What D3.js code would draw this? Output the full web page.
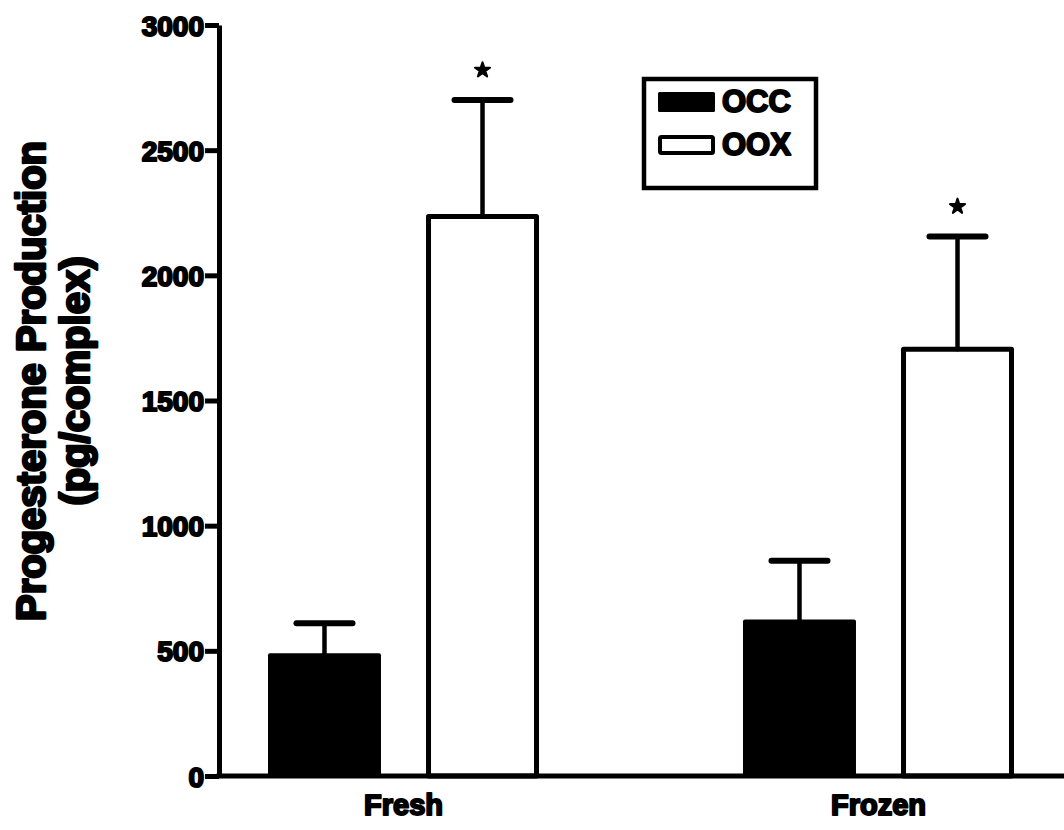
<!DOCTYPE html>
<html>
<head>
<meta charset="utf-8">
<script src="https://cdn.jsdelivr.net/npm/d3@7"></script>
<style>
  html, body { margin: 0; padding: 0; background: #fff; }
  svg { display: block; }
  text { font-family: "Liberation Sans", Arial, Helvetica, sans-serif; font-weight: bold; fill: #000; stroke-linejoin: round; }
</style>
</head>
<body>
<svg id="chart" width="1064" height="830"></svg>
<script>
// Progesterone production per complex, by tissue state and culture type
const groups = ["Fresh", "Frozen"];
const series = ["OCC", "OOX"];
const occMeans = [490, 625];
const occUpper = [610, 860];
const ooxMeans = [2235, 1705];
const ooxUpper = [2700, 2155];
const significant = [[false, true], [false, true]];
const yTicks = [0, 500, 1000, 1500, 2000, 2500, 3000];

const rows = groups.map((g, i) => [
  { group: g, key: "OCC", value: occMeans[i], upper: occUpper[i], star: significant[i][0] },
  { group: g, key: "OOX", value: ooxMeans[i], upper: ooxUpper[i], star: significant[i][1] }
]).flat();

const svg = d3.select("#chart");
const axisX = 219, axisBottom = 776, axisTop = 25;

const y = d3.scaleLinear().domain([0, 3000]).range([axisBottom, axisTop]);
const x = d3.scaleBand().domain(groups).range([166, 1116]).padding(0);
const inner = d3.scaleBand().domain(series).range([-135.5, 135.5]).paddingInner(0.285);

const stroke = "#000";

// Bars
const barG = svg.append("g");
rows.forEach(d => {
  const cx = x(d.group) + x.bandwidth() / 2;
  const bx = cx + inner(d.key);
  const bw = inner.bandwidth();
  if (d.key === "OCC") {
    barG.append("rect")
      .attr("x", bx).attr("y", y(d.value))
      .attr("width", bw).attr("height", y(0) - y(d.value))
      .attr("fill", "#000").attr("rx", 2);
  } else {
    barG.append("rect")
      .attr("x", bx + 2.5).attr("y", y(d.value))
      .attr("width", bw - 5).attr("height", y(0) - y(d.value))
      .attr("fill", "#fff").attr("stroke", stroke).attr("stroke-width", 5)
      .attr("stroke-linejoin", "round");
  }
});

// Error bars (upper only) and significance markers
const errG = svg.append("g").attr("stroke", stroke).attr("stroke-linecap", "round");
rows.forEach(d => {
  const cx = x(d.group) + x.bandwidth() / 2 + inner(d.key) + inner.bandwidth() / 2;
  errG.append("line")
    .attr("x1", cx).attr("x2", cx)
    .attr("y1", y(d.value)).attr("y2", y(d.upper))
    .attr("stroke-width", 4.5);
  errG.append("line")
    .attr("x1", cx - 28).attr("x2", cx + 28)
    .attr("y1", y(d.upper)).attr("y2", y(d.upper))
    .attr("stroke-width", 6);
  if (d.star) {
    svg.append("path")
      .attr("d", d3.symbol(d3.symbolStar).size(70)())
      .attr("transform", `translate(${cx},${y(d.upper) - 30})`)
      .attr("fill", "#000").attr("stroke", "#000").attr("stroke-width", 2)
      .attr("stroke-linejoin", "round");
  }
});

// Y axis
const yAxis = svg.append("g")
  .attr("transform", `translate(${axisX},0)`)
  .call(d3.axisLeft(y).tickValues(yTicks).tickSize(14).tickSizeOuter(0).tickPadding(1).tickFormat(d3.format("d")));
yAxis.select(".domain").attr("stroke", "#000").attr("stroke-width", 5);
yAxis.selectAll(".tick line").attr("stroke", "#000").attr("stroke-width", 5);
yAxis.selectAll(".tick text")
  .attr("font-size", 28).attr("font-family", "Liberation Sans, Arial, sans-serif").attr("font-weight", "bold")
  .attr("stroke", "#000").attr("stroke-width", 2).attr("stroke-linejoin", "round").attr("dy", "0.36em");

// X axis baseline and group labels
svg.append("line")
  .attr("x1", axisX - 2.5).attr("x2", 1064)
  .attr("y1", y(0)).attr("y2", y(0))
  .attr("stroke", "#000").attr("stroke-width", 5);
svg.append("g").selectAll("text").data(groups).join("text")
  .attr("x", d => x(d) + x.bandwidth() / 2)
  .attr("y", 815)
  .attr("text-anchor", "middle")
  .attr("font-size", 29)
  .attr("stroke", "#000").attr("stroke-width", 2)
  .text(d => d);

// Y axis title
const yTitle = svg.append("text")
  .attr("transform", "translate(45,381) rotate(-90)")
  .attr("text-anchor", "middle")
  .attr("font-size", 40)
  .attr("stroke", "#000").attr("stroke-width", 2.6);
yTitle.append("tspan").attr("x", 0).attr("y", 0).text("Progesterone Production");
yTitle.append("tspan").attr("x", 0).attr("y", 44).text("(pg/complex)");

// Legend
const leg = svg.append("g");
leg.append("rect")
  .attr("x", 644).attr("y", 79).attr("width", 172).attr("height", 109)
  .attr("fill", "#fff").attr("stroke", "#000").attr("stroke-width", 4.5);
series.forEach((s, i) => {
  const top = 92 + i * 43;
  leg.append("rect")
    .attr("x", i === 0 ? 658 : 660).attr("y", i === 0 ? top : top + 2)
    .attr("width", i === 0 ? 57 : 53).attr("height", i === 0 ? 20 : 16)
    .attr("fill", i === 0 ? "#000" : "#fff")
    .attr("stroke", "#000").attr("stroke-width", i === 0 ? 0 : 4)
    .attr("rx", 1.5);
  leg.append("text")
    .attr("x", 722).attr("y", top + 20)
    .attr("font-size", 31)
    .attr("stroke", "#000").attr("stroke-width", 2)
    .text(s);
});
</script>
</body>
</html>
